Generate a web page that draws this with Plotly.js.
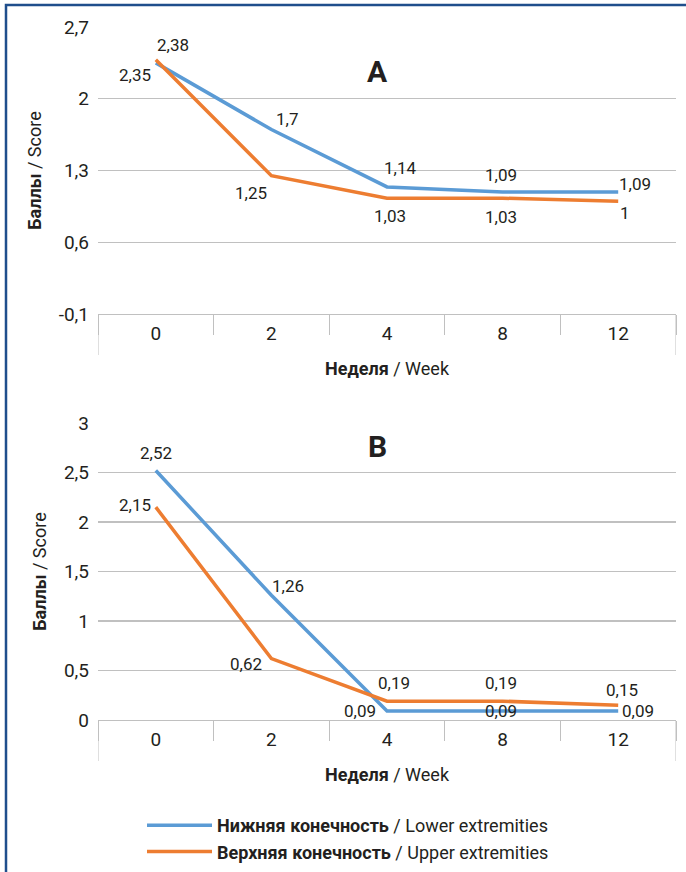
<!DOCTYPE html>
<html>
<head>
<meta charset="utf-8">
<script src="https://cdn.plot.ly/plotly-3.0.1.min.js"></script>
<style>html,body{margin:0;padding:0;background:#fff;}#chart{width:686px;height:872px;}</style>
</head>
<body>
<div id="chart"></div>
<script>
// ---- data ----
const weeks = ['0', '2', '4', '8', '12'];
const lowerA = [2.35, 1.7, 1.14, 1.09, 1.09];
const upperA = [2.38, 1.25, 1.03, 1.03, 1];
const lowerB = [2.52, 1.26, 0.09, 0.09, 0.09];
const upperB = [2.15, 0.62, 0.19, 0.19, 0.15];
const yTickValsA = [-0.1, 0.6, 1.3, 2, 2.7];
const yTickTextA = ['-0,1', '0,6', '1,3', '2', '2,7'];
const yTickValsB = [0, 0.5, 1, 1.5, 2, 2.5, 3];
const yTickTextB = ['0', '0,5', '1', '1,5', '2', '2,5', '3'];
const nameLower = '<b>Нижняя конечность</b> / Lower extremities';
const nameUpper = '<b>Верхняя конечность</b> / Upper extremities';
const xTitle = '<b>Неделя</b> / Week';
const yTitle = '<b>Баллы</b> / Score';
const panelA = 'A';
const panelB = 'B';

// ---- styles ----
const FONT = "Roboto, 'Liberation Sans', sans-serif";
const TXT = '#231f20';
const BLUE = '#5b9bd5';
const ORANGE = '#ed7d31';
const GRID = '#c0c0c0';
const fmt = v => String(v).replace('.', ',');

// label offsets (px) relative to each point: [xshift, yshift]
const offLowerA = [[-21, -12], [16, 10], [13, 19], [-2, 17], [17, 8]];
const offUpperA = [[17, 15], [-20, -17], [3, -18], [-2, -19], [7, -12]];
const offLowerB = [[0, 18], [17, 9], [-27, 0], [-2, 0], [20, 0]];
const offUpperB = [[-21, 2], [-25, -5], [7, 18], [-2, 18], [4, 15]];

function tr(y, name, color, xa, ya, show) {
  return {
    x: weeks, y: y, name: name, type: 'scatter', mode: 'lines',
    line: {color: color, width: 3.5},
    xaxis: xa, yaxis: ya, showlegend: show, hoverinfo: 'skip'
  };
}

const traces = [
  tr(lowerA, nameLower, BLUE, 'x', 'y', true),
  tr(upperA, nameUpper, ORANGE, 'x', 'y', true),
  tr(lowerB, nameLower, BLUE, 'x2', 'y2', false),
  tr(upperB, nameUpper, ORANGE, 'x2', 'y2', false)
];

const W = 686, H = 872;
const px = v => v / W, py = v => 1 - v / H;

function xax(anchor) {
  return {
    type: 'category', range: [-0.5, weeks.length - 0.5], anchor: anchor,
    domain: [px(98), px(676)],
    showline: true, linecolor: GRID, linewidth: 1,
    ticks: 'outside', tickson: 'boundaries', ticklen: 20, tickcolor: GRID, tickwidth: 1,
    ticklabelstandoff: 2,
    showgrid: false, zeroline: false,
    tickfont: {family: FONT, size: 19, color: TXT},
    title: {text: xTitle, font: {family: FONT, size: 18, color: TXT}, standoff: 18}
  };
}
function yax(anchor, dom, range, vals, text) {
  return {
    anchor: anchor, domain: dom, range: range,
    tickmode: 'array', tickvals: vals, ticktext: text,
    showline: false, showgrid: true, gridcolor: GRID, gridwidth: 1.3, zeroline: false,
    ticks: '', ticklabelstandoff: 8,
    tickfont: {family: FONT, size: 19, color: TXT},
    title: {text: yTitle, font: {family: FONT, size: 18, color: TXT}, standoff: 12}
  };
}

const shapes = [];
// longer outer ticks at both ends of each category axis
[['x', 'y domain', 287], ['x2', 'y2 domain', 297]].forEach(([xr, yr, h]) => {
  [-0.5, weeks.length - 0.5].forEach(xv => {
    shapes.push({type: 'line', xref: xr, yref: yr, x0: xv, x1: xv, y0: 0, y1: -41 / h,
      line: {color: GRID, width: 1}});
  });
});
// frame
shapes.push({type: 'rect', xref: 'paper', yref: 'paper', x0: px(6), x1: 1.1, y0: -0.1, y1: py(5),
  line: {color: '#1f4e8c', width: 2.5}, fillcolor: 'rgba(0,0,0,0)', layer: 'above'});

const annotations = [];
function labels(vals, offs, xr, yr) {
  vals.forEach((v, i) => {
    // category axes place annotations by category index
    annotations.push({xref: xr, yref: yr, x: i, y: v, text: fmt(v), showarrow: false,
      xshift: offs[i][0], yshift: offs[i][1],
      font: {family: FONT, size: 17, color: TXT}});
  });
}
labels(lowerA, offLowerA, 'x', 'y');
labels(upperA, offUpperA, 'x', 'y');
labels(lowerB, offLowerB, 'x2', 'y2');
labels(upperB, offUpperB, 'x2', 'y2');
annotations.push({text: '<b>' + panelA + '</b>', xref: 'paper', yref: 'paper', x: px(378), y: py(52),
  showarrow: false, font: {family: FONT, size: 30, color: TXT}});
annotations.push({text: '<b>' + panelB + '</b>', xref: 'paper', yref: 'paper', x: px(378), y: py(447),
  showarrow: false, font: {family: FONT, size: 30, color: TXT}});

const layout = {
  width: W, height: H,
  margin: {l: 0, r: 0, t: 0, b: 0},
  paper_bgcolor: '#fff', plot_bgcolor: '#fff',
  font: {family: FONT, color: TXT},
  separators: ', ',
  xaxis: xax('y'),
  yaxis: yax('x', [py(314), py(27)], [-0.1, 2.7], yTickValsA, yTickTextA),
  xaxis2: xax('y2'),
  yaxis2: yax('x2', [py(720), py(423)], [0, 3], yTickValsB, yTickTextB),
  showlegend: true,
  legend: {x: px(142), y: py(807), xanchor: 'left', yanchor: 'top', orientation: 'v',
    itemwidth: 65,
    font: {family: FONT, size: 18, color: TXT}, bgcolor: 'rgba(0,0,0,0)', tracegroupgap: 0},
  annotations: annotations,
  shapes: shapes
};

Plotly.newPlot('chart', traces, layout, {displayModeBar: false, staticPlot: true});
</script>
</body>
</html>
